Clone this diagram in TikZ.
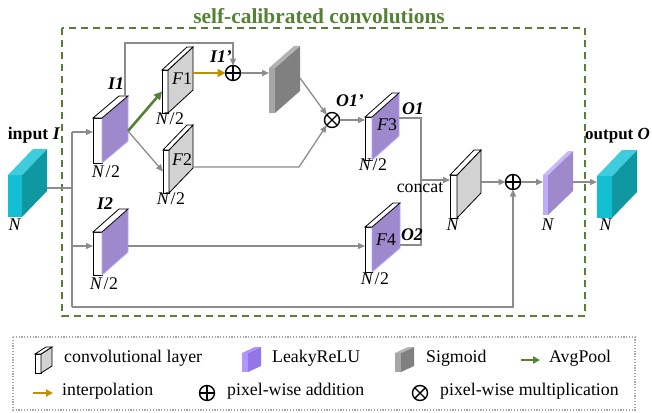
\documentclass[tikz,border=0pt]{standalone}
\usepackage{fontspec}
\setmainfont{Liberation Serif}
\usetikzlibrary{arrows.meta,calc}
\definecolor{sgreen}{RGB}{84,130,53}
\definecolor{sgold}{RGB}{191,144,0}
\definecolor{lgray}{RGB}{140,140,140}
\definecolor{purp}{RGB}{157,137,204}
\definecolor{purpedge}{RGB}{185,165,250}
\definecolor{convgray}{RGB}{210,210,210}
\definecolor{sigf}{RGB}{166,166,166}
\definecolor{sigs}{RGB}{128,128,128}
\definecolor{sigt}{RGB}{178,178,178}
\definecolor{cyanf}{RGB}{20,190,210}
\definecolor{cyans}{RGB}{15,152,162}
\definecolor{cyant}{RGB}{62,205,222}
\definecolor{lrf}{RGB}{190,172,250}
\definecolor{lrs}{RGB}{157,137,204}
\definecolor{lrt}{RGB}{200,186,250}
\definecolor{lgf}{RGB}{178,150,255}
\definecolor{lgs}{RGB}{148,118,232}
\definecolor{lgt}{RGB}{172,145,250}
\newcommand\slabbox[8]{%
  \node[#8front, minimum width=#4pt, minimum height=#5pt, anchor=north west, inner sep=0pt, outer sep=0pt] (#1) at (#2,#3) {};
  \path[#8side] (#1.north east) -- ++(#6,#7) -- ++(0,#5) -- (#1.south east) -- cycle;
  \path[#8top] (#1.north west) -- ++(#6,#7) -- ++(#4,0) -- (#1.north east) -- cycle;
}
\begin{document}
\begin{tikzpicture}[x=1pt,y=-1pt,
  lbl/.style={inner sep=0pt, text height=0.7em, text depth=0.2em, font=\fontsize{17.8}{20}\selectfont},
  gline/.style={draw=lgray, line width=1.3pt},
  garr/.style={gline, -{Triangle[length=7pt,width=6pt]}},
  greenarr/.style={draw=sgreen, line width=2.6pt, -{Triangle[length=8pt,width=8pt]}},
  goldarr/.style={draw=sgold, line width=2.6pt, -{Triangle[length=8pt,width=8pt]}},
  op/.style={circle, draw=black, line width=1.4pt, minimum size=15pt, inner sep=0pt, outer sep=0pt},
  oplus/.style={op, path picture={\draw[line width=1.4pt] (path picture bounding box.north) -- (path picture bounding box.south) (path picture bounding box.west) -- (path picture bounding box.east);}},
  otimes/.style={op, path picture={\draw[line width=1.4pt] (path picture bounding box.north west) -- (path picture bounding box.south east) (path picture bounding box.north east) -- (path picture bounding box.south west);}},
  convfront/.style={draw=black, line width=0.8pt, fill=white},
  convside/.style={draw=black, line width=0.8pt, fill=convgray},
  convtop/.style={draw=black, line width=0.8pt, fill=white},
  relufront/.style={draw=black, line width=0.8pt, fill=white},
  reluside/.style={draw=purpedge, line width=0.8pt, fill=purp},
  relutop/.style={draw=black, line width=0.8pt, fill=white},
  sigfront/.style={fill=sigf},
  sigside/.style={fill=sigs},
  sigtop/.style={fill=sigt},
  cubefront/.style={fill=cyanf},
  cubeside/.style={fill=cyans},
  cubetop/.style={fill=cyant},
  lrfront/.style={fill=lrf},
  lrside/.style={fill=lrs},
  lrtop/.style={fill=lrt},
  lgfront/.style={fill=lgf},
  lgside/.style={fill=lgs},
  lgtop/.style={fill=lgt}
]
\useasboundingbox (0,0) rectangle (652,412);

% title and frame
\node[font=\bfseries\fontsize{21.4}{24}\selectfont, text=sgreen, inner sep=0pt] (title) at (319,16) {self-calibrated convolutions};
\draw[sgreen, line width=1.8pt, dash pattern=on 7pt off 5pt] (62,28) rectangle (585,316);

% blocks
\slabbox{inp}{8}{175}{14}{42}{25}{-26}{cube}
\slabbox{I1}{93}{118}{9}{45}{26}{-22}{relu}
\slabbox{I2}{93}{232}{9}{43}{26}{-23}{relu}
\slabbox{F1}{162}{70}{6}{43}{25}{-23}{conv}
\slabbox{F2}{163}{150}{6}{43}{24}{-25}{conv}
\slabbox{sig}{269}{68}{6}{45}{25}{-22}{sig}
\slabbox{F3}{365}{117}{7}{43}{27}{-24}{relu}
\slabbox{F4}{365}{227}{7}{45}{28}{-24}{relu}
\slabbox{cat}{450}{175}{7}{43}{24}{-25}{conv}
\slabbox{lr}{543}{175}{5}{40}{25}{-24}{lr}
\slabbox{outc}{597}{176}{15}{42}{25}{-26}{cube}

\node[oplus] (add1) at (233,73) {};
\node[otimes] (mul) at (332,120) {};
\node[oplus] (add2) at (513,182) {};

% coordinates
\coordinate (inR) at (47,188);
\coordinate (busT) at (72,132);
\coordinate (busM) at (72,188);
\coordinate (busI2) at (72,246);
\coordinate (busB) at (72,307);
\coordinate (I1o) at (128,131);
\coordinate (I1top) at (125,96);
\coordinate (loopY) at (0,43);
\coordinate (F1o) at (193,73);
\coordinate (sigo) at (300,78);
\coordinate (F2o) at (193,167);
\coordinate (F2k) at (299,167);
\coordinate (F3o) at (399,118);
\coordinate (F4o) at (400,245);
\coordinate (joinT) at (421,118);
\coordinate (joinB) at (421,245);
\coordinate (joinM) at (421,180);
\coordinate (cato) at (481,182);
\coordinate (lro) at (573,182);
\coordinate (I2o) at (128,246);

% connectors
\draw[gline] (inR) -- (busM);
\draw[gline] (busT) -- (busB);
\draw[garr] (busT) -- (I1.west |- busT);
\draw[garr] (busI2) -- (I2.west |- busI2);
\draw[garr] (busB) -| (add2.south);
\draw[greenarr] (I1o) -- (F1.west);
\draw[garr] (I1o) -- (F2.west);
\draw[garr] (I1top) -- (I1top |- loopY) -| (add1.north);
\draw[goldarr] (F1o) -- (add1.west);
\draw[garr] (add1.east) -- (sig.west |- add1);
\draw[garr] (sigo) -- (mul.north west);
\draw[garr] (F2o) -- (F2k) -- (mul.south west);
\draw[garr] (mul.east) -- (F3.west |- mul);
\draw[gline] (F3o) -- (joinT) -- (joinB) -- (F4o);
\draw[garr] (joinM) -- (cat.west |- joinM);
\draw[garr] (cato) -- (add2.west);
\draw[garr] (add2.east) -- (lr.west |- add2);
\draw[garr] (lro) -- (outc.west |- lro);
\draw[garr] (I2o) -- (F4.west |- I2o);

% labels
\node[lbl] (linp) at (34,137) {\textbf{input \textit{I}}};
\node[lbl] (ninp) at (15,228) {\textit{N}};
\node[lbl] (lI1) at (116,87) {\textbf{\textit{I1}}};
\node[lbl] (nI1) at (106,175) {\textit{N}\kern1pt/\kern0.5pt2};
\node[lbl] (lF1) at (182,82) {\textit{F}1};
\node[lbl] (nF1) at (170,122) {\textit{N}\kern1pt/\kern0.5pt2};
\node[lbl] (lF2) at (182,163) {\textit{F}2};
\node[lbl] (nF2) at (171,202) {\textit{N}\kern1pt/\kern0.5pt2};
\node[lbl] (lI2) at (105,207) {\textbf{\textit{I2}}};
\node[lbl] (nI2) at (104,287) {\textit{N}\kern1pt/\kern0.5pt2};
\node[lbl] (lI1p) at (221,60) {\textbf{\textit{I1’}}};
\node[lbl] (lO1p) at (350,104) {\textbf{\textit{O1’}}};
\node[lbl] (lF3) at (387,128) {\textit{F}3};
\node[lbl] (nF3) at (373,168) {\textit{N}\kern1pt/\kern0.5pt2};
\node[lbl] (lO1) at (413,112) {\textbf{\textit{O1}}};
\node[lbl] (lcat) at (420,190) {concat};
\node[lbl] (lF4) at (386,243) {\textit{F}4};
\node[lbl] (lO2) at (412,238) {\textbf{\textit{O2}}};
\node[lbl] (nF4) at (375,282) {\textit{N}\kern1pt/\kern0.5pt2};
\node[lbl] (ncat) at (453,228) {\textit{N}};
\node[lbl] (nlr) at (548,228) {\textit{N}};
\node[lbl] (nout) at (606,228) {\textit{N}};
\node[lbl, anchor=west, font=\fontsize{17}{20}\selectfont] (lout) at (585,137) {\textbf{output \textit{O}}};

% legend
\draw[gray!70, line width=1.2pt, dash pattern=on 1.2pt off 1.6pt] (13,337) rectangle (635,410);
\slabbox{lgconv}{35}{354}{6}{19}{11}{-7}{conv}
\node[lbl, anchor=west] (tconv) at (64,360) {convolutional layer};
\slabbox{lgrelu}{242}{353}{6}{19}{13}{-6}{lg}
\node[lbl, anchor=west] (trelu) at (272,360) {LeakyReLU};
\slabbox{lgsig}{395}{353}{6}{19}{13}{-6}{sig}
\node[lbl, anchor=west] (tsig) at (426,360) {Sigmoid};
\coordinate (avgA) at (521,360);
\coordinate (avgB) at (540,360);
\draw[draw=sgreen, line width=2.6pt, -{Triangle[length=7pt,width=7pt]}] (avgA) -- (avgB);
\node[lbl, anchor=west] (tavg) at (549,360) {AvgPool};
\coordinate (intA) at (33,393);
\coordinate (intB) at (53,393);
\draw[draw=sgold, line width=2.6pt, -{Triangle[length=7pt,width=7pt]}] (intA) -- (intB);
\node[lbl, anchor=west] (tint) at (62,393) {interpolation};
\node[oplus] (lgadd) at (207,393) {};
\node[lbl, anchor=west] (tadd) at (227,393) {pixel-wise addition};
\node[otimes] (lgmul) at (420,393) {};
\node[lbl, anchor=west] (tmul) at (440,393) {pixel-wise multiplication};
\end{tikzpicture}
\end{document}
